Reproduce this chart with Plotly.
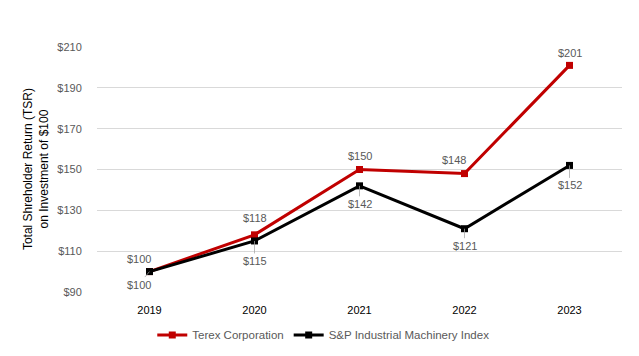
import plotly.graph_objects as go

years = ["2019", "2020", "2021", "2022", "2023"]
terex = [100, 118, 150, 148, 201]
sp_index = [100, 115, 142, 121, 152]
y_ticks = [90, 110, 130, 150, 170, 190, 210]

# label placement (pixel offsets from the point), style only
terex_label_dx = [-11, 0, 0, -11, 0]
terex_label_dy = [13, 17, 14, 14, 12]
sp_label_dx = [-11, 0, 0, 0, 0]
sp_label_dy = [13, 20, 18, 17, 20]

font_family = "Liberation Sans, Noto Sans, sans-serif"
label_color = "#595959"

fig = go.Figure()
fig.add_trace(go.Scatter(
    x=years, y=terex, name="Terex Corporation",
    mode="lines+markers",
    line=dict(color="#C00000", width=3),
    marker=dict(symbol="square", size=7, color="#C00000"),
    cliponaxis=False,
))
fig.add_trace(go.Scatter(
    x=years, y=sp_index, name="S&P Industrial Machinery Index",
    mode="lines+markers",
    line=dict(color="#000000", width=3),
    marker=dict(symbol="square", size=7, color="#000000"),
    cliponaxis=False,
))

annotations = [dict(
    text="Total Shreholder Return (TSR)<br>on Investment of $100",
    xref="paper", yref="paper", x=-0.117, y=0.5,
    xanchor="center", yanchor="middle", textangle=-90, showarrow=False,
    font=dict(size=12, color="#000000", family=font_family))]

# category axis: annotations are positioned by category index
for i, (v, dx, dy) in enumerate(zip(terex, terex_label_dx, terex_label_dy)):
    annotations.append(dict(x=i, y=v, xref="x", yref="y", text=f"${v}",
                            showarrow=False, xshift=dx, yshift=dy,
                            font=dict(size=11, color=label_color, family=font_family)))
for i, (v, dx, dy) in enumerate(zip(sp_index, sp_label_dx, sp_label_dy)):
    annotations.append(dict(x=i, y=v, xref="x", yref="y", text=f"${v}",
                            showarrow=True, arrowhead=0, arrowwidth=0.75,
                            arrowcolor="#A6A6A6", ax=dx, ay=dy, standoff=0,
                            font=dict(size=11, color=label_color, family=font_family)))

fig.update_layout(
    width=639, height=356,
    margin=dict(l=89, r=25, t=39, b=72, autoexpand=False),
    paper_bgcolor="white", plot_bgcolor="white",
    font=dict(family=font_family, size=11, color="#595959"),
    legend=dict(orientation="h", x=0.431, xanchor="center", y=-0.175, yanchor="middle",
                font=dict(size=11.5, color="#595959"), itemwidth=30,
                tracegroupgap=0),
    showlegend=True,
    annotations=annotations,
)
fig.update_xaxes(type="category", range=[-0.5, 4.5],
                 showgrid=False, showline=False, zeroline=False,
                 ticks="outside", ticklen=8, tickcolor="white",
                 tickfont=dict(size=11, color="#000000"))
fig.update_yaxes(range=[90, 210], tickvals=y_ticks,
                 ticktext=[f"${v}" for v in y_ticks],
                 showgrid=True, gridcolor="#D9D9D9", gridwidth=1,
                 zeroline=False, showline=False,
                 ticks="outside", ticklen=12, tickcolor="white",
                 tickfont=dict(size=11, color="#595959"))

fig.write_html("out.html")
